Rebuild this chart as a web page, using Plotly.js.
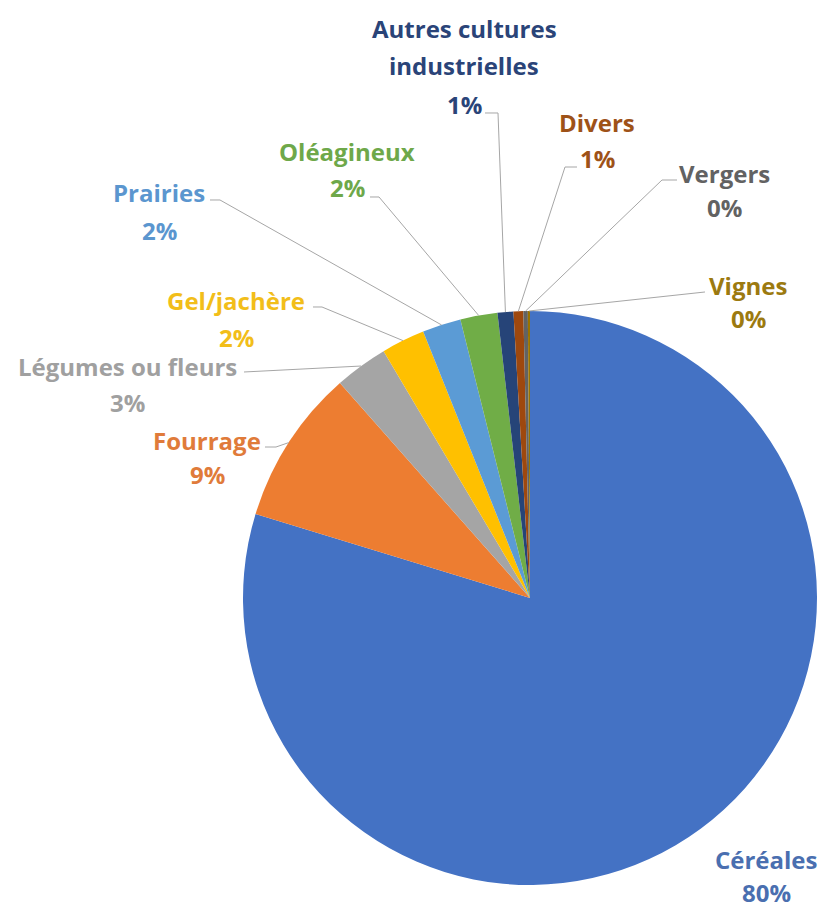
<!DOCTYPE html>
<html><head><meta charset="utf-8">
<script src="https://cdn.plot.ly/plotly-3.0.1.min.js"></script>
<style>html,body{margin:0;padding:0;background:#fff}#chart{width:826px;height:909px}</style>
</head><body><div id="chart"></div>
<script>
// ---- data ----
const categories = ['Céréales','Fourrage','Légumes ou fleurs','Gel/jachère','Prairies','Oléagineux','Autres cultures industrielles','Divers','Vergers','Vignes'];
const values = [79.73, 8.75, 3.0, 2.45, 2.17, 2.09, 0.89, 0.55, 0.25, 0.12];
const labelLines = [['Céréales'],['Fourrage'],['Légumes ou fleurs'],['Gel/jachère'],['Prairies'],['Oléagineux'],['Autres cultures','industrielles'],['Divers'],['Vergers'],['Vignes']];

// ---- styles / layout ----
const colors = ['#4472C4','#ED7D31','#A5A5A5','#FFC000','#5B9BD5','#70AD47','#264478','#9E480E','#636363','#997300'];
const textColors = ['#4A6FB0','#E07B3A','#A0A0A0','#F2BE1A','#5B96CF','#6EA84A','#2A4478','#9E5218','#626262','#9C7A10'];
const W = 826, H = 909, CX = 530, CY = 598, R = 287;
const labelX = [766,207,127,236,159,347,464,597,724,748];
const labelY = [[859,892],[440,474],[367,402],[300,337],[193,230],[152,187],[29,66,105],[123,158],[173,208],[285,318]];
const leaderPts = [null, [[265,447],[276,447]], [[244,372]], [[313,307],[322,307]], [[210,200],[220,200]], [[370,197],[379,197]], [[485,113],[498,113]], [[577,167],[565,167]], [[677,180],[662,180]], [[705,292]]];

const total = values.reduce((a,b)=>a+b,0);
const px = x => x / W, py = y => 1 - y / H;

const annotations = [];
const shapes = [];
let cum = 0;
values.forEach((v, i) => {
  const mid = (cum + v / 2) / total;
  cum += v;
  const th = 2 * Math.PI * mid;
  const ex = CX + R * Math.sin(th), ey = CY - R * Math.cos(th);
  const lines = labelLines[i].concat([Math.round(v / total * 100) + '%']);
  lines.forEach((t, k) => {
    annotations.push({
      text: t, xref: 'paper', yref: 'paper', x: px(labelX[i]), y: py(labelY[i][k]),
      xanchor: 'center', yanchor: 'middle', showarrow: false,
      font: {family: 'Open Sans, sans-serif', size: 24, weight: 700, color: textColors[i]}
    });
  });
  if (leaderPts[i]) {
    const pts = leaderPts[i].concat([[ex, ey]]);
    const d = pts.map((p, k) => (k ? 'L ' : 'M ') + px(p[0]).toFixed(5) + ' ' + py(p[1]).toFixed(5)).join(' ');
    shapes.push({type: 'path', xref: 'paper', yref: 'paper', path: d, line: {color: '#A6A6A6', width: 1}});
  }
});

const trace = {
  type: 'pie', labels: categories, values: values, sort: false, direction: 'clockwise', rotation: 0,
  marker: {colors: colors, line: {color: '#ffffff', width: 0}},
  textinfo: 'none', hoverinfo: 'label+percent', showlegend: false,
  domain: {x: [px(CX - R), px(CX + R)], y: [py(CY + R), py(CY - R)]}
};

Plotly.newPlot('chart', [trace], {
  width: W, height: H, margin: {l: 0, r: 0, t: 0, b: 0},
  paper_bgcolor: '#ffffff', plot_bgcolor: '#ffffff', showlegend: false,
  annotations: annotations, shapes: shapes
}, {displayModeBar: false, staticPlot: true});
</script>
</body></html>
